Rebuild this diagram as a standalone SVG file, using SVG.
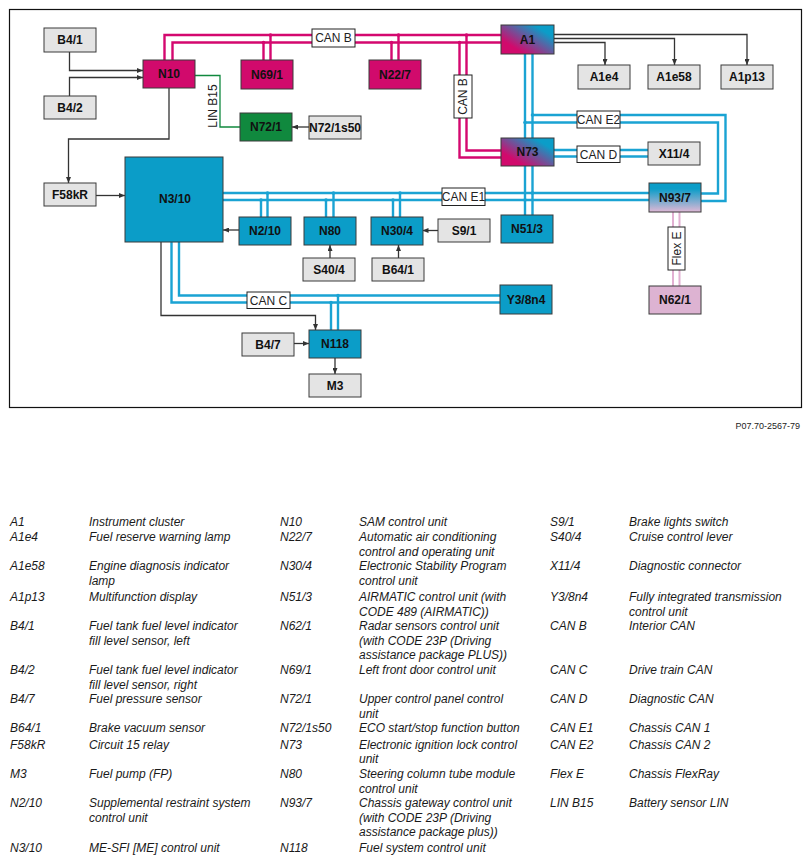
<svg xmlns="http://www.w3.org/2000/svg" width="811" height="862" viewBox="0 0 811 862">
<defs>
<style>
.n rect{stroke:#3a3a3a;stroke-width:1}
.n text{font-family:"Liberation Sans",Arial,sans-serif;font-weight:bold;font-size:12px;text-anchor:middle;fill:#111}
.g rect{fill:#e4e4e4}
.b rect{fill:#0b9dc8}
.m rect{fill:#d10a6c}
.w{stroke:#333;stroke-width:1.3;fill:none}
.ar{marker-end:url(#ah)}
.cb{stroke:#d4086f;stroke-width:2.4;fill:none}
.cu{stroke:#1aa3d3;stroke-width:2.4;fill:none}
.dm{fill:#d4086f}
.du{fill:#1aa3d3}
.lb rect{fill:#fff;stroke:#222;stroke-width:1}
.lb text,.lt{font-family:"Liberation Sans",Arial,sans-serif;font-size:12px;text-anchor:middle;fill:#222}
.lg text{font-family:"Liberation Sans",Arial,sans-serif;font-style:italic;font-size:12px;fill:#1a1a1a}
</style>
<marker id="ah" viewBox="0 0 6 5" refX="6" refY="2.5" markerWidth="6" markerHeight="5" markerUnits="userSpaceOnUse" orient="auto"><path d="M0 0L6 2.5L0 5z" fill="#333"/></marker>
<linearGradient id="mb" x1="0.1" y1="0.85" x2="0.9" y2="0.15"><stop offset="0.15" stop-color="#d10a6c"/><stop offset="0.9" stop-color="#0b9dc8"/></linearGradient>
<linearGradient id="bp" x1="0" y1="0" x2="0" y2="1"><stop offset="0.2" stop-color="#0b9dc8"/><stop offset="1" stop-color="#e0b8d6"/></linearGradient>
</defs>
<rect width="811" height="862" fill="#fff"/>
<rect x="9.5" y="9.5" width="792" height="398" fill="none" stroke="#111" stroke-width="1.2"/>

<g id="connectors">
<path class="cb" d="M164.5 60V35H501M172.5 60V42.5H501M263.5 42.5V60M270.5 35V60M391.5 42.5V60M398.5 35V60M459.5 42.5V157.5H501M466.5 35V150.5H501"/>
<g class="dm"><circle cx="263.5" cy="42.5" r="1.8"/><circle cx="270.5" cy="35" r="1.8"/><circle cx="391.5" cy="42.5" r="1.8"/><circle cx="398.5" cy="35" r="1.8"/><circle cx="459.5" cy="42.5" r="1.8"/><circle cx="466.5" cy="35" r="1.8"/></g>
<path class="cu" d="M525 54V215M532.5 54V215M532.5 115H725.5V201H701M525 122.5H718V193.5H701M223 193H649M223 200H649M261 200V217M267.5 193V217M326 200V217M333.5 193V217M393 200V217M400 193V217M554 150H648M554 156.5H648M179 242V295.5H500M171.5 242V302.5H500M331 302.5V330M338 295.5V330"/>
<g class="du"><circle cx="532.5" cy="115" r="1.8"/><circle cx="525" cy="122.5" r="1.8"/><circle cx="532.5" cy="193" r="1.8"/><circle cx="525" cy="200" r="1.8"/><circle cx="267.5" cy="193" r="1.8"/><circle cx="261" cy="200" r="1.8"/><circle cx="333.5" cy="193" r="1.8"/><circle cx="326" cy="200" r="1.8"/><circle cx="400" cy="193" r="1.8"/><circle cx="393" cy="200" r="1.8"/><circle cx="331" cy="302.5" r="1.8"/><circle cx="338" cy="295.5" r="1.8"/></g>
<path d="M673 212V286M679.5 212V286" stroke="#e2b0d2" stroke-width="2" fill="none"/>
<path d="M195 75.5H220V127H240" stroke="#10893e" stroke-width="1.3" fill="none"/>
<text class="lt" transform="translate(217,106) rotate(-90)">LIN B15</text>
<path class="w ar" d="M69.5 52V70.5H143"/>
<path class="w ar" d="M69.5 96V77.5H143"/>
<path class="w ar" d="M169 88V139H68.5V183"/>
<path class="w ar" d="M96 195.5H125"/>
<path class="w ar" d="M239 230H223"/>
<path class="w ar" d="M161 242V315.5H315.5V330"/>
<path class="w ar" d="M294 343.5H309"/>
<path class="w ar" d="M335 358V374"/>
<path class="w ar" d="M330 258V245"/>
<path class="w ar" d="M398.5 258V245"/>
<path class="w ar" d="M438 230.5H422.5"/>
<path class="w ar" d="M309 127H292"/>
<path class="w ar" d="M554 42.5H605V65"/>
<path class="w ar" d="M554 38.5H674.5V65"/>
<path class="w ar" d="M554 34.5H747V65"/>
<g class="lb">
<rect x="312" y="29" width="43" height="18"/><text x="333.5" y="42.3">CAN B</text>
<rect x="454" y="75" width="18" height="43"/><text transform="translate(467.3,96.5) rotate(-90)">CAN B</text>
<rect x="577" y="111" width="43" height="17"/><text x="598.5" y="123.8">CAN E2</text>
<rect x="577" y="146" width="43" height="16.5"/><text x="598.5" y="158.6">CAN D</text>
<rect x="442" y="188" width="43" height="17.5"/><text x="463.5" y="201">CAN E1</text>
<rect x="247" y="292" width="43" height="16.5"/><text x="268.5" y="304.6">CAN C</text>
<rect x="668" y="227" width="17" height="43"/><text transform="translate(680.8,248.5) rotate(-90)">Flex E</text>
</g>
</g>

<g id="B4-1" class="n g"><rect x="44" y="28" width="52" height="24"/><text x="70" y="44.3">B4/1</text></g>
<g id="B4-2" class="n g"><rect x="44" y="96" width="52" height="23"/><text x="70" y="111.8">B4/2</text></g>
<g id="N10" class="n m"><rect x="143" y="60" width="52" height="28"/><text x="169" y="78.3">N10</text></g>
<g id="N69-1" class="n m"><rect x="241" y="60" width="52" height="29"/><text x="267" y="78.8">N69/1</text></g>
<g id="N22-7" class="n m"><rect x="369" y="60" width="52" height="29"/><text x="395" y="78.8">N22/7</text></g>
<g id="A1" class="n"><rect x="501" y="25" width="53" height="29" fill="url(#mb)"/><text x="527.5" y="43.8">A1</text></g>
<g id="A1e4" class="n g"><rect x="578" y="65" width="52" height="24"/><text x="604" y="81.3">A1e4</text></g>
<g id="A1e58" class="n g"><rect x="648" y="65" width="52" height="24"/><text x="674" y="81.3">A1e58</text></g>
<g id="A1p13" class="n g"><rect x="721" y="65" width="52" height="24"/><text x="747" y="81.3">A1p13</text></g>
<g id="N72-1" class="n"><rect x="240" y="113" width="52" height="28" fill="#10893e"/><text x="266" y="131.3">N72/1</text></g>
<g id="N72-1s50" class="n g"><rect x="309" y="116" width="52" height="23"/><text x="335" y="131.8">N72/1s50</text></g>
<g id="N73" class="n"><rect x="501" y="138" width="53" height="28" fill="url(#mb)"/><text x="527.5" y="156.3">N73</text></g>
<g id="X11-4" class="n g"><rect x="648" y="142" width="52" height="23"/><text x="674" y="157.8">X11/4</text></g>
<g id="N93-7" class="n"><rect x="649" y="183" width="52" height="29" fill="url(#bp)"/><text x="675" y="201.8">N93/7</text></g>
<g id="N62-1" class="n"><rect x="649" y="286" width="52" height="28" fill="#ddb3d2"/><text x="675" y="304.3">N62/1</text></g>
<g id="N3-10" class="n b"><rect x="125" y="157" width="98" height="85"/><text x="175" y="203.3">N3/10</text></g>
<g id="F58kR" class="n g"><rect x="44" y="183" width="52" height="23"/><text x="70" y="198.8">F58kR</text></g>
<g id="N2-10" class="n b"><rect x="239" y="217" width="52" height="28"/><text x="265" y="235.3">N2/10</text></g>
<g id="N80" class="n b"><rect x="304" y="217" width="52" height="28"/><text x="330" y="235.3">N80</text></g>
<g id="N30-4" class="n b"><rect x="371" y="217" width="52" height="28"/><text x="397" y="235.3">N30/4</text></g>
<g id="S9-1" class="n g"><rect x="438" y="219" width="52" height="23"/><text x="464" y="234.8">S9/1</text></g>
<g id="N51-3" class="n b"><rect x="501" y="215" width="52" height="28"/><text x="527" y="233.3">N51/3</text></g>
<g id="S40-4" class="n g"><rect x="303" y="258" width="52" height="23"/><text x="329" y="273.8">S40/4</text></g>
<g id="B64-1" class="n g"><rect x="372" y="258" width="52" height="23"/><text x="398" y="273.8">B64/1</text></g>
<g id="Y3-8n4" class="n b"><rect x="500" y="285" width="52" height="29"/><text x="526" y="303.8">Y3/8n4</text></g>
<g id="N118" class="n b"><rect x="309" y="330" width="52" height="28"/><text x="335" y="348.3">N118</text></g>
<g id="M3" class="n g"><rect x="309" y="374" width="52" height="23"/><text x="335" y="389.8">M3</text></g>
<g id="B4-7" class="n g"><rect x="242" y="333" width="52" height="23"/><text x="268" y="348.8">B4/7</text></g>

<text x="800" y="429" font-family="Liberation Sans,Arial,sans-serif" font-size="9" text-anchor="end" fill="#222">P07.70-2567-79</text>

<g id="legend" class="lg" transform="translate(0,1)">
<text x="10" y="525.3">A1</text><text x="89" y="525.3">Instrument cluster</text>
<text x="10" y="540.3">A1e4</text><text x="89" y="540.3">Fuel reserve warning lamp</text>
<text x="10" y="569.3">A1e58</text><text x="89" y="569.3">Engine diagnosis indicator</text><text x="89" y="583.6">lamp</text>
<text x="10" y="600.3">A1p13</text><text x="89" y="600.3">Multifunction display</text>
<text x="10" y="629.3">B4/1</text><text x="89" y="629.3">Fuel tank fuel level indicator</text><text x="89" y="643.6">fill level sensor, left</text>
<text x="10" y="673.3">B4/2</text><text x="89" y="673.3">Fuel tank fuel level indicator</text><text x="89" y="687.6">fill level sensor, right</text>
<text x="10" y="702.3">B4/7</text><text x="89" y="702.3">Fuel pressure sensor</text>
<text x="10" y="731.3">B64/1</text><text x="89" y="731.3">Brake vacuum sensor</text>
<text x="10" y="747.6">F58kR</text><text x="89" y="747.6">Circuit 15 relay</text>
<text x="10" y="777.3">M3</text><text x="89" y="777.3">Fuel pump (FP)</text>
<text x="10" y="806.3">N2/10</text><text x="89" y="806.3">Supplemental restraint system</text><text x="89" y="820.6">control unit</text>
<text x="10" y="850.6">N3/10</text><text x="89" y="850.6">ME-SFI [ME] control unit</text>

<text x="280" y="525.3">N10</text><text x="359" y="525.3">SAM control unit</text>
<text x="280" y="540.3">N22/7</text><text x="359" y="540.3">Automatic air conditioning</text><text x="359" y="554.6">control and operating unit</text>
<text x="280" y="569.3">N30/4</text><text x="359" y="569.3">Electronic Stability Program</text><text x="359" y="583.6">control unit</text>
<text x="280" y="600.3">N51/3</text><text x="359" y="600.3">AIRMATIC control unit (with</text><text x="359" y="614.6">CODE 489 (AIRMATIC))</text>
<text x="280" y="629.3">N62/1</text><text x="359" y="629.3">Radar sensors control unit</text><text x="359" y="643.6">(with CODE 23P (Driving</text><text x="359" y="657.9">assistance package PLUS))</text>
<text x="280" y="673.3">N69/1</text><text x="359" y="673.3">Left front door control unit</text>
<text x="280" y="702.3">N72/1</text><text x="359" y="702.3">Upper control panel control</text><text x="359" y="716.6">unit</text>
<text x="280" y="731.3">N72/1s50</text><text x="359" y="731.3">ECO start/stop function button</text>
<text x="280" y="747.6">N73</text><text x="359" y="747.6">Electronic ignition lock control</text><text x="359" y="761.9">unit</text>
<text x="280" y="777.3">N80</text><text x="359" y="777.3">Steering column tube module</text><text x="359" y="791.6">control unit</text>
<text x="280" y="806.3">N93/7</text><text x="359" y="806.3">Chassis gateway control unit</text><text x="359" y="820.6">(with CODE 23P (Driving</text><text x="359" y="834.9">assistance package plus))</text>
<text x="280" y="850.6">N118</text><text x="359" y="850.6">Fuel system control unit</text>

<text x="550" y="525.3">S9/1</text><text x="629" y="525.3">Brake lights switch</text>
<text x="550" y="540.3">S40/4</text><text x="629" y="540.3">Cruise control lever</text>
<text x="550" y="569.3">X11/4</text><text x="629" y="569.3">Diagnostic connector</text>
<text x="550" y="600.3">Y3/8n4</text><text x="629" y="600.3">Fully integrated transmission</text><text x="629" y="614.6">control unit</text>
<text x="550" y="629.3">CAN B</text><text x="629" y="629.3">Interior CAN</text>
<text x="550" y="673.3">CAN C</text><text x="629" y="673.3">Drive train CAN</text>
<text x="550" y="702.3">CAN D</text><text x="629" y="702.3">Diagnostic CAN</text>
<text x="550" y="731.3">CAN E1</text><text x="629" y="731.3">Chassis CAN 1</text>
<text x="550" y="747.6">CAN E2</text><text x="629" y="747.6">Chassis CAN 2</text>
<text x="550" y="777.3">Flex E</text><text x="629" y="777.3">Chassis FlexRay</text>
<text x="550" y="806.3">LIN B15</text><text x="629" y="806.3">Battery sensor LIN</text>
</g>
</svg>
